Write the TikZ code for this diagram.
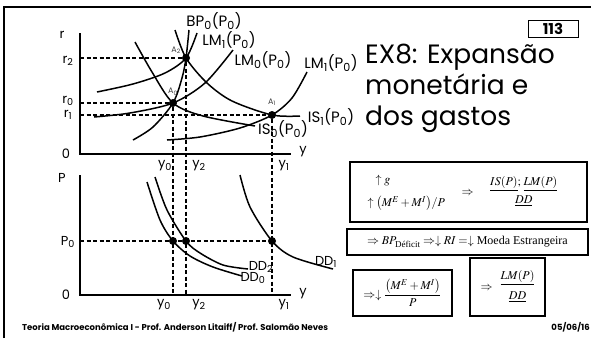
\documentclass[tikz,border=0pt]{standalone}
\usepackage{amsmath}
\usepackage{mathptmx}
\usepackage{fontspec}
\setmainfont{Liberation Serif}
\newfontfamily\gothic{Poppins}
\usetikzlibrary{positioning}
\newcommand{\idx}[1]{\textsubscript{#1}}
\tikzset{
  curve/.style={line width=1.5pt},
  axis/.style={line width=1.6pt},
  guide/.style={line width=1.1pt, dash pattern=on 4pt off 2.5pt},
  dot/.style={circle, fill=black, inner sep=0pt, minimum size=8pt},
  lbl/.style={font=\gothic\fontsize{15}{15}\selectfont, inner sep=0pt},
  axl/.style={font=\gothic\fontsize{13}{13}\selectfont, inner sep=0pt},
  ptlbl/.style={font=\gothic\fontsize{8}{8}\selectfont, inner sep=0pt, text=black!75},
  title/.style={font=\gothic\fontsize{26.5}{26.5}\selectfont, inner sep=0pt, anchor=base west},
  box/.style={draw, line width=1.6pt, inner sep=0pt, font=\fontsize{12}{14}\selectfont},
  foot/.style={font=\gothic\bfseries\fontsize{8.5}{8.5}\selectfont, inner sep=0pt}
}

\begin{document}
\begin{tikzpicture}[x=1pt, y=-1pt]
  \useasboundingbox (0,0) rectangle (591,338);
  \draw[line width=1.8pt] (4,338) -- (4,7) -- (591,7);

  % upper graph
  \coordinate (ro) at (80,154);
  \draw[axis] (80,33) -- (ro) -- (291,154);
  \node[axl] at (62,35) {r};
  \node[axl] at (303,152) {y};
  \node[axl] at (66,154) {0};
  \node[dot] (A2) at (186,58) {};
  \node[dot] (A0) at (173,103) {};
  \node[dot] (A1) at (272,115) {};
  \coordinate (r2) at (80,58);
  \coordinate (r0) at (80,103);
  \coordinate (r1) at (80,115);
  \node[axl] at (68,61) {r\idx{2}};
  \node[axl] at (68,101) {r\idx{0}};
  \node[axl] at (68,115) {r\idx{1}};
  \draw[guide] (r2) -- (A2);
  \draw[guide] (r0) -- (A0);
  \draw[guide] (r1) -- (A1);
  \draw[curve] plot[smooth] coordinates {(135,42) (152,72) (173,103) (203,116) (255,126)};
  \draw[curve] plot[smooth] coordinates {(175,30) (186,58) (207,83) (232,101) (272,115) (300,116)};
  \draw[curve] plot[smooth] coordinates {(133,140) (153,127) (173,103) (182,78) (186,58) (189,30)};
  \draw[curve] plot[smooth] coordinates {(94,117) (130,113) (173,103) (205,83) (233,50)};
  \draw[curve] plot[smooth] coordinates {(97,92) (133,84) (165,73) (186,58) (197,33)};
  \draw[curve] plot[smooth] coordinates {(167,140) (200,137) (240,128) (272,115) (292,98) (307,72)};
  \node[lbl] at (214,21) {BP\idx{0}(P\idx{0})};
  \node[lbl] at (229,40) {LM\idx{1}(P\idx{0})};
  \node[lbl] at (263,60) {LM\idx{0}(P\idx{0})};
  \node[lbl] at (331,63) {LM\idx{1}(P\idx{0})};
  \node[lbl] at (331,117) {IS\idx{1}(P\idx{0})};
  \node[lbl] at (283,129) {IS\idx{0}(P\idx{0})};
  \node[ptlbl, above left=1pt and 2pt of A2] {A\idx{2}};
  \node[ptlbl, above=3pt of A0] {A\idx{0}};
  \node[ptlbl, above=5pt of A1] {A\idx{1}};
  \node[axl] at (165,166) {y\idx{0}};
  \node[axl] at (199,166) {y\idx{2}};
  \node[axl] at (284,166) {y\idx{1}};

  % lower graph
  \coordinate (po) at (80,295);
  \draw[axis] (80,175) -- (po) -- (291,295);
  \node[axl] at (62,178) {P};
  \node[axl] at (303,294) {y};
  \node[axl] at (66,295) {0};
  \node[axl] at (68,242) {P\idx{0}};
  \coordinate (p0) at (80,241);
  \coordinate (y0) at (173,295);
  \coordinate (y2) at (186,295);
  \coordinate (y1) at (272,295);
  \node[dot] (B0) at (173,241) {};
  \node[dot] (B2) at (186,241) {};
  \node[dot] (B1) at (272,241) {};
  \draw[guide] (p0) -- (B1);
  \draw[guide] (A0) -- (y0);
  \draw[guide] (A2) -- (y2);
  \draw[guide] (A1) -- (y1);
  \draw[curve] plot[smooth] coordinates {(147,182) (160,220) (173,241) (190,256) (213,267) (242,276)};
  \draw[curve] plot[smooth] coordinates {(155,177) (167,210) (186,241) (200,253) (223,265) (248,269)};
  \draw[curve] plot[smooth] coordinates {(240,175) (250,207) (272,241) (293,257) (333,269)};
  \node[axl] at (326,262) {DD\idx{1}};
  \node[axl] at (261,267) {DD\idx{2}};
  \node[axl] at (253,278) {DD\idx{0}};
  \node[axl] at (164,305) {y\idx{0}};
  \node[axl] at (199,305) {y\idx{2}};
  \node[axl] at (284,305) {y\idx{1}};

  % title and slide number
  \node[draw, line width=1pt, minimum width=50pt, minimum height=17pt, inner sep=0pt,
        font=\gothic\bfseries\fontsize{15}{15}\selectfont] (num) at (553,28.5) {113};
  \node[title] at (365,63) {EX8: Expansão};
  \node[title] at (365,94) {monetária e};
  \node[title] at (365,125) {dos gastos};

  % boxes
  \node[box, minimum width=237pt, minimum height=60pt] (box1) at (468.5,192)
    {$\begin{array}{@{}l@{}}\hspace{8pt}\uparrow g\\[9pt]\uparrow\left(M^E+M^I\right)\!/P\end{array}
      \hspace{14pt}\Rightarrow\hspace{14pt}
      \begin{array}{@{}c@{}}\underline{IS(P)};\,\underline{LM(P)}\\[4pt]\underline{DD}\end{array}\hspace{12pt}$};
  \node[box, minimum width=241pt, minimum height=26pt] (box2) at (467.5,242)
    {$\Rightarrow BP_{\text{Déficit}}\Rightarrow\downarrow RI=\downarrow$ Moeda Estrangeira};
  \node[box, minimum width=99pt, minimum height=46pt] (box3) at (402.5,293)
    {$\Rightarrow\downarrow\dfrac{\left(M^E+M^I\right)}{P}$};
  \node[box, minimum width=75pt, minimum height=58pt] (box4) at (507.5,287)
    {$\Rightarrow\;\;\begin{array}{@{}c@{}}\underline{LM(P)}\\[6pt]\underline{DD}\end{array}$};

  % footer
  \node[foot, anchor=west] at (22,327)
    {Teoria Macroeconômica I - Prof. Anderson Litaiff/ Prof. Salomão Neves};
  \node[foot, anchor=east] at (590,327) {05/06/16};
\end{tikzpicture}
\end{document}
